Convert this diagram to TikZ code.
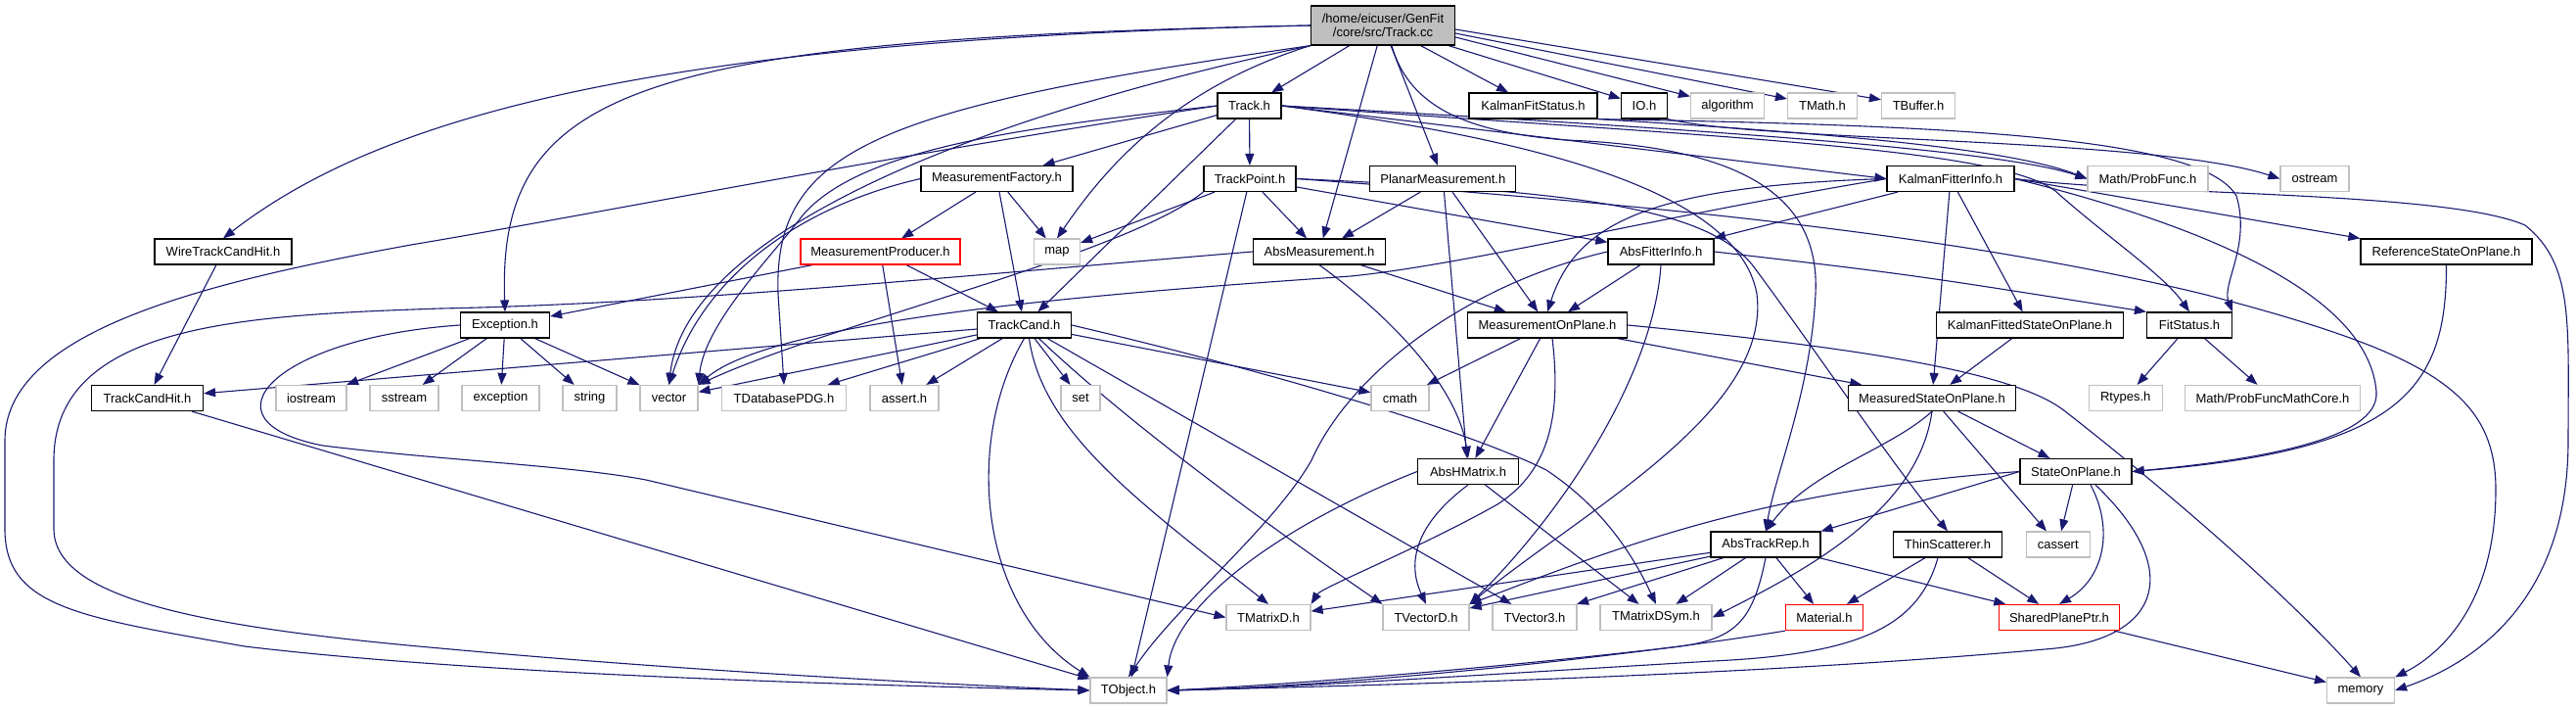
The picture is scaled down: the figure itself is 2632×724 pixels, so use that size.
\documentclass[tikz,border=0pt]{standalone}
\usepackage{fontspec}
\setmainfont{Liberation Sans}
\usetikzlibrary{arrows.meta}
\definecolor{edgec}{HTML}{191970}
\definecolor{sysgray}{HTML}{BFBFBF}
\definecolor{rootfill}{HTML}{BFBFBF}
\pgfdeclarelayer{bg}
\pgfdeclarelayer{paper}
\pgfsetlayers{paper,bg,main}
\begin{document}
\begin{tikzpicture}[x=1pt,y=-1pt,
  every node/.style={font=\fontsize{13}{14}\selectfont, inner sep=0pt, minimum height=26pt},
  hdr/.style={draw=black, line width=1.2pt, fill=white},
  sys/.style={draw=sysgray, line width=1.2pt, fill=white},
  trunc/.style={draw=red, line width=1.2pt, fill=white},
  root/.style={draw=black, line width=1.2pt, fill=rootfill, minimum height=40pt, align=center},
  conn/.style={draw=edgec, line width=1.1pt, -{Triangle[length=12pt,width=9pt]}},
]
\begin{pgfonlayer}{paper}
\fill[white] (0,0) rectangle (2632,724);
\end{pgfonlayer}
\useasboundingbox (0,0) rectangle (2632,724);

% nodes
\node[root, minimum width=147pt] (cc) at (1413,26) {/home/eicuser/GenFit\\/core/src/Track.cc};
\node[hdr, minimum width=65pt] (trackh) at (1276.5,108) {Track.h};
\node[hdr, minimum width=131pt] (kfs) at (1566.5,108) {KalmanFitStatus.h};
\node[hdr, minimum width=47pt] (io) at (1680,108) {IO.h};
\node[sys, minimum width=75pt] (algorithm) at (1765,108) {algorithm};
\node[sys, minimum width=71pt] (tmath) at (1862,108) {TMath.h};
\node[sys, minimum width=75pt] (tbuffer) at (1960,108) {TBuffer.h};
\node[hdr, minimum width=155pt] (mfact) at (1018.5,182.5) {MeasurementFactory.h};
\node[hdr, minimum width=94pt] (tpoint) at (1277,182.5) {TrackPoint.h};
\node[hdr, minimum width=149pt] (planar) at (1474.3,182.5) {PlanarMeasurement.h};
\node[hdr, minimum width=130pt] (kfi) at (1993,182.5) {KalmanFitterInfo.h};
\node[sys, minimum width=123pt] (probfunc) at (2194.5,182.5) {Math/ProbFunc.h};
\node[sys, minimum width=70pt] (ostream) at (2365,182.5) {ostream};
\node[hdr, minimum width=140pt] (wtch) at (228,257) {WireTrackCandHit.h};
\node[trunc, minimum width=163pt] (mprod) at (899.5,257) {MeasurementProducer.h};
\node[sys, minimum width=47pt] (map) at (1080,257) {map};
\node[hdr, minimum width=135pt] (absmeas) at (1348,257) {AbsMeasurement.h};
\node[hdr, minimum width=108pt] (absfi) at (1697,257) {AbsFitterInfo.h};
\node[hdr, minimum width=175pt] (refsop) at (2499.5,257) {ReferenceStateOnPlane.h};
\node[hdr, minimum width=91pt] (exc) at (516,332) {Exception.h};
\node[hdr, minimum width=96pt] (tcand) at (1046.5,332) {TrackCand.h};
\node[hdr, minimum width=163pt] (mop) at (1581,332) {MeasurementOnPlane.h};
\node[hdr, minimum width=191pt] (kfsop) at (2074,332) {KalmanFittedStateOnPlane.h};
\node[hdr, minimum width=87pt] (fitstatus) at (2237,332) {FitStatus.h};
\node[hdr, minimum width=114pt] (tch) at (150.5,406.5) {TrackCandHit.h};
\node[sys, minimum width=72pt] (iostream) at (318,406.5) {iostream};
\node[sys, minimum width=70pt] (sstream) at (413,406.5) {sstream};
\node[sys, minimum width=79pt] (exception) at (511.5,406.5) {exception};
\node[sys, minimum width=55pt] (string) at (602.5,406.5) {string};
\node[sys, minimum width=59pt] (vector) at (683.5,406.5) {vector};
\node[sys, minimum width=127pt] (tdbpdg) at (801,406.5) {TDatabasePDG.h};
\node[sys, minimum width=70pt] (asserth) at (924,406.5) {assert.h};
\node[sys, minimum width=40pt] (set) at (1104,406.5) {set};
\node[sys, minimum width=59pt] (cmath) at (1430.5,406.5) {cmath};
\node[hdr, minimum width=171pt] (msop) at (1974,406.5) {MeasuredStateOnPlane.h};
\node[sys, minimum width=75pt] (rtypes) at (2171.7,406.5) {Rtypes.h};
\node[sys, minimum width=179pt] (probfuncmc) at (2322,406.5) {Math/ProbFuncMathCore.h};
\node[hdr, minimum width=103pt] (abshm) at (1500,481.5) {AbsHMatrix.h};
\node[hdr, minimum width=114pt] (sop) at (2121,481.5) {StateOnPlane.h};
\node[hdr, minimum width=112pt] (atr) at (1804,556) {AbsTrackRep.h};
\node[hdr, minimum width=111pt] (thin) at (1990,556) {ThinScatterer.h};
\node[sys, minimum width=65pt] (cassert) at (2102.7,556) {cassert};
\node[sys, minimum width=86pt] (tmatrixd) at (1296,630.5) {TMatrixD.h};
\node[sys, minimum width=88pt] (tvectord) at (1457,630.5) {TVectorD.h};
\node[sys, minimum width=86pt] (tvector3) at (1568,630.5) {TVector3.h};
\node[sys, minimum width=114pt] (tmds) at (1692,630.5) {TMatrixDSym.h};
\node[trunc, minimum width=79pt] (material) at (1864,630.5) {Material.h};
\node[trunc, minimum width=123pt] (spp) at (2104,630.5) {SharedPlanePtr.h};
\node[sys, minimum width=78pt] (tobject) at (1153,705) {TObject.h};
\node[sys, minimum width=69pt] (memory) at (2412,705) {memory};

\begin{pgfonlayer}{bg}
% Track.cc
\draw[conn] (cc) -- (trackh);
\draw[conn] (cc) -- (absmeas);
\draw[conn] (cc) -- (planar);
\draw[conn] (cc) -- (kfs);
\draw[conn] (cc) -- (io);
\draw[conn] ([yshift=-12pt]cc.east) -- (algorithm);
\draw[conn] ([yshift=-8pt]cc.east) -- (tmath);
\draw[conn] ([yshift=-4pt]cc.east) -- (tbuffer);
\draw[conn] (cc.west) .. controls (700,40) and (400,110) .. (wtch.north);
\draw[conn] (cc.west) .. controls (650,40) and (508,90) .. (exc.north);
\draw[conn] (cc.south west) .. controls (950,130) and (700,250) .. (vector.north);
\draw[conn] (cc.south west) .. controls (900,110) and (790,150) .. (795,300) -- (tdbpdg.north);
\draw[conn] (cc.south west) .. controls (1200,90) and (1130,170) .. (map.north);
\draw[conn] ([xshift=9pt]cc.south) .. controls (1440,110) and (1500,135) .. (1600,143)
   .. controls (1780,150) and (1860,200) .. (1855,300) .. controls (1850,400) and (1815,480) .. (atr.north);
% Track.h
\draw[conn] (trackh) -- (mfact);
\draw[conn] (trackh) -- (tpoint);
\draw[conn] (trackh) -- (tcand);
\draw[conn] (trackh.east) -- (kfi.west);
\draw[conn] (trackh.east) .. controls (1800,135) and (2050,155) .. (probfunc.west);
\draw[conn] (trackh.east) .. controls (1750,140) and (2040,150) .. (2100,195) .. controls (2150,240) and (2210,280) .. (fitstatus.north);
\draw[conn] (trackh.east) .. controls (1550,140) and (1775,190) .. (1795,300) .. controls (1810,420) and (1620,520) .. (tvectord.north east);
\draw[conn] (trackh.west) .. controls (1050,130) and (880,150) .. (820,220) .. controls (790,260) and (720,330) .. (vector.north east);
\draw[conn] (trackh.west) .. controls (900,160) and (600,220) .. (420,250) .. controls (200,290) and (5,340) .. (5,450)
   -- (5,540) .. controls (5,620) and (80,630) .. (250,660) .. controls (500,690) and (900,700) .. (tobject.west);
% KalmanFitStatus, IO
\draw[conn] (kfs.south east) .. controls (1850,135) and (2050,150) .. (probfunc.west);
\draw[conn] (kfs.south east) .. controls (2000,128) and (2250,140) .. (2285,200) .. controls (2300,250) and (2270,290) .. (fitstatus.north east);
\draw[conn] (io.south east) .. controls (1800,145) and (2200,140) .. (ostream.west);
% WireTrackCandHit, TrackCandHit
\draw[conn] (wtch) -- (tch);
\draw[conn] (tch) -- (tobject);
% MeasurementFactory
\draw[conn] (mfact) -- (mprod);
\draw[conn] (mfact) -- (tcand);
\draw[conn] (mfact) -- (map);
\draw[conn] (mfact.west) .. controls (820,210) and (720,280) .. (vector.north);
% TrackPoint
\draw[conn] (tpoint) -- (map);
\draw[conn] (tpoint) -- (absmeas);
\draw[conn] (tpoint) -- (absfi);
\draw[conn] (tpoint) -- (tobject);
\draw[conn] (tpoint.south west) .. controls (1150,260) and (850,330) .. (vector.north east);
\draw[conn] (tpoint.east) .. controls (1600,195) and (1740,210) .. (1790,270) .. controls (1850,350) and (1930,470) .. (thin.north);
\draw[conn] (tpoint.east) .. controls (1700,210) and (2000,240) .. (2250,300) .. controls (2480,360) and (2550,400) .. (2550,500)
   .. controls (2550,620) and (2490,670) .. (memory.north east);
% PlanarMeasurement
\draw[conn] (planar) -- (absmeas);
\draw[conn] (planar) -- (abshm);
\draw[conn] (planar) -- (mop);
% KalmanFitterInfo
\draw[conn] (kfi) -- (absfi);
\draw[conn] (kfi) -- (kfsop);
\draw[conn] (kfi) -- (msop);
\draw[conn] (kfi.east) -- (refsop.north west);
\draw[conn] (kfi.west) .. controls (1680,190) and (1610,230) .. (mop.north);
\draw[conn] (kfi.west) .. controls (1700,220) and (1500,270) .. (1380,282) .. controls (1200,295) and (800,320) .. (vector.north east);
\draw[conn] (kfi.east) .. controls (2250,230) and (2420,300) .. (2428,400) .. controls (2432,450) and (2300,470) .. (sop.east);
\draw[conn] (kfi.east) .. controls (2200,200) and (2500,195) .. (2580,230) .. controls (2630,270) and (2624,330) .. (2624,450)
   .. controls (2624,620) and (2520,680) .. (memory.east);
% MeasurementProducer
\draw[conn] (mprod) -- (exc);
\draw[conn] (mprod) -- (tcand);
\draw[conn] (mprod) -- (asserth);
% AbsMeasurement
\draw[conn] (absmeas) -- (mop);
\draw[conn] (absmeas.south) .. controls (1430,330) and (1490,400) .. (abshm.north);
\draw[conn] (absmeas.west) .. controls (1000,280) and (700,310) .. (450,315) .. controls (250,322) and (55,330) .. (55,470)
   -- (55,540) .. controls (55,610) and (200,640) .. (450,662) .. controls (700,685) and (950,698) .. (tobject.west);
% AbsFitterInfo
\draw[conn] (absfi) -- (mop);
\draw[conn] (absfi.east) .. controls (1950,280) .. (fitstatus.north west);
\draw[conn] (absfi.west) .. controls (1500,290) and (1380,380) .. (1340,470) .. controls (1300,540) and (1200,620) .. (tobject.north);
\draw[conn] (absfi.south) .. controls (1690,380) and (1600,520) .. (tvectord.north east);
% ReferenceStateOnPlane
\draw[conn] (refsop.south) .. controls (2500,400) and (2450,460) .. (sop.east);
% Exception
\draw[conn] (exc) -- (iostream);
\draw[conn] (exc) -- (sstream);
\draw[conn] (exc) -- (exception);
\draw[conn] (exc) -- (string);
\draw[conn] (exc) -- (vector);
\draw[conn] (exc.west) .. controls (280,345) and (200,430) .. (330,455) .. controls (450,470) and (580,475) .. (660,490) -- (tmatrixd.west);
% TrackCand
\draw[conn] (tcand) -- (tch);
\draw[conn] (tcand) -- (vector);
\draw[conn] (tcand) -- (tdbpdg);
\draw[conn] (tcand) -- (asserth);
\draw[conn] (tcand) -- (set);
\draw[conn] (tcand) -- (cmath);
\draw[conn] (tcand) -- (tvector3);
\draw[conn] (tcand.south) .. controls (985,450) and (1000,620) .. (tobject.north west);
\draw[conn] ([xshift=5pt]tcand.south) .. controls (1065,440) and (1160,510) .. (tmatrixd.north);
\draw[conn] ([xshift=15pt]tcand.south) .. controls (1150,430) and (1300,540) .. (tvectord.north west);
\draw[conn] (tcand.east) .. controls (1300,380) and (1500,440) .. (1580,480) .. controls (1640,520) and (1670,570) .. (tmds.north);
% MeasurementOnPlane
\draw[conn] (mop) -- (cmath);
\draw[conn] (mop) -- (abshm);
\draw[conn] (mop) -- (msop);
\draw[conn] ([xshift=5pt]mop.south) .. controls (1595,420) and (1585,480) .. (1530,515) .. controls (1450,560) and (1350,600) .. (tmatrixd.north east);
\draw[conn] (mop.east) .. controls (1900,355) and (2060,380) .. (2110,420) .. controls (2200,490) and (2330,600) .. (memory.north);
% KalmanFittedStateOnPlane, FitStatus
\draw[conn] (kfsop) -- (msop);
\draw[conn] (fitstatus) -- (rtypes);
\draw[conn] (fitstatus) -- (probfuncmc);
% MeasuredStateOnPlane
\draw[conn] (msop) -- (sop);
\draw[conn] (msop) -- (cassert);
\draw[conn] (msop.south) .. controls (1930,460) and (1850,480) .. (atr.north);
\draw[conn] (msop.south) .. controls (1960,520) and (1850,580) .. (tmds.east);
% AbsHMatrix
\draw[conn] (abshm) -- (tmds);
\draw[conn] (abshm.south) .. controls (1440,540) and (1440,580) .. (tvectord.north);
\draw[conn] (abshm.west) .. controls (1300,540) and (1200,620) .. (tobject.north east);
% StateOnPlane
\draw[conn] (sop) -- (cassert);
\draw[conn] (sop.west) -- (atr.north east);
\draw[conn] (sop.west) .. controls (1800,500) and (1650,560) .. (tvectord.north east);
\draw[conn] ([xshift=15pt]sop.south) .. controls (2160,540) and (2150,590) .. (spp.north);
\draw[conn] ([xshift=20pt]sop.south) .. controls (2230,580) and (2210,650) .. (2100,662) .. controls (1800,690) and (1400,700) .. (tobject.east);
% AbsTrackRep
\draw[conn] (atr) -- (tmatrixd);
\draw[conn] (atr) -- (tvectord);
\draw[conn] (atr) -- (tvector3);
\draw[conn] (atr) -- (tmds);
\draw[conn] (atr) -- (material);
\draw[conn] (atr) -- (spp);
\draw[conn] (atr.south) .. controls (1790,640) and (1770,655) .. (1700,662) .. controls (1500,685) and (1300,700) .. (tobject.east);
% ThinScatterer, Material, SharedPlanePtr
\draw[conn] (thin) -- (material);
\draw[conn] (thin) -- (spp);
\draw[conn] ([xshift=-10pt]thin.south) .. controls (1960,640) and (1900,668) .. (1750,675) .. controls (1500,690) and (1300,703) .. (tobject.east);
\draw[conn] (material.south west) .. controls (1700,665) and (1400,700) .. (tobject.east);
\draw[conn] (spp) -- (memory);
\end{pgfonlayer}
\end{tikzpicture}
\end{document}
